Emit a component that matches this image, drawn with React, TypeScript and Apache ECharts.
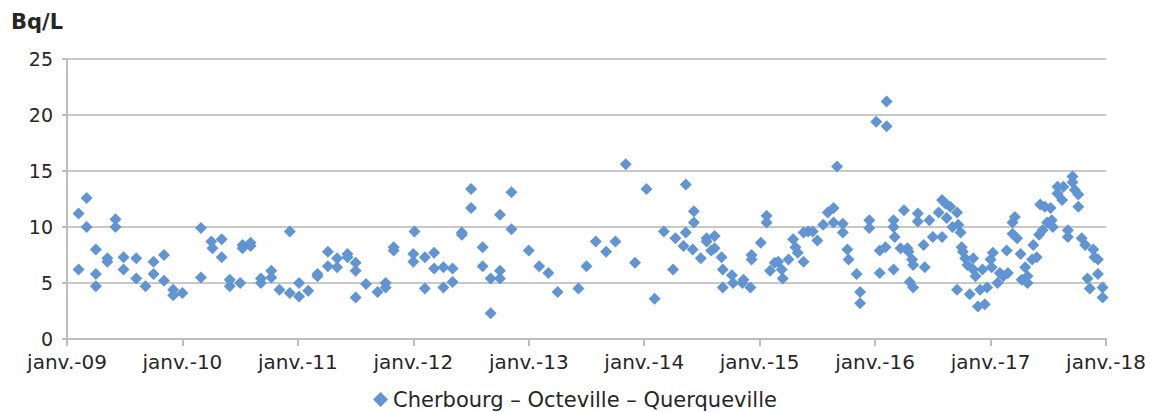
import React, { useEffect, useRef } from "react";
import * as echarts from "echarts";

const yearTicks = [2009, 2010, 2011, 2012, 2013, 2014, 2015, 2016, 2017, 2018];
const seriesName = "Cherbourg – Octeville – Querqueville";
const unitLabel = "Bq/L";

// decimal-year dates of the samples
const dates = [
  2009.10, 2009.10, 2009.17, 2009.17, 2009.25, 2009.25, 2009.25, 2009.35, 2009.35, 2009.42,
  2009.42, 2009.49, 2009.49, 2009.60, 2009.60, 2009.68, 2009.75, 2009.75, 2009.84, 2009.84,
  2009.92, 2009.92, 2010.00, 2010.16, 2010.16, 2010.25, 2010.26, 2010.34, 2010.34, 2010.41,
  2010.41, 2010.50, 2010.52, 2010.52, 2010.59, 2010.59, 2010.68, 2010.68, 2010.77, 2010.77,
  2010.84, 2010.93, 2010.93, 2011.01, 2011.01, 2011.09, 2011.17, 2011.17, 2011.26, 2011.26,
  2011.34, 2011.34, 2011.43, 2011.43, 2011.50, 2011.50, 2011.50, 2011.59, 2011.69, 2011.76,
  2011.76, 2011.83, 2011.83,
  2012.01, 2012.00, 2012.00, 2012.10, 2012.10, 2012.18, 2012.18, 2012.26, 2012.26, 2012.34,
  2012.34, 2012.42, 2012.42, 2012.50, 2012.50, 2012.60, 2012.60, 2012.67, 2012.67, 2012.75,
  2012.75, 2012.75, 2012.85, 2012.85,
  2013.00, 2013.09, 2013.17, 2013.25, 2013.43, 2013.50, 2013.58, 2013.67, 2013.75, 2013.84,
  2013.92, 2014.02, 2014.09, 2014.17, 2014.25, 2014.27, 2014.36, 2014.36, 2014.34, 2014.43,
  2014.43, 2014.42, 2014.49, 2014.54, 2014.54, 2014.58, 2014.61, 2014.61, 2014.67, 2014.68,
  2014.68, 2014.76, 2014.77, 2014.85, 2014.86, 2014.92, 2014.93, 2014.93,
  2015.01, 2015.06, 2015.06, 2015.09, 2015.13, 2015.16, 2015.19, 2015.20, 2015.25, 2015.29,
  2015.31, 2015.33, 2015.38, 2015.38, 2015.42, 2015.46, 2015.50, 2015.55, 2015.59, 2015.64,
  2015.67, 2015.64, 2015.72, 2015.72, 2015.76, 2015.77, 2015.84, 2015.87, 2015.87, 2015.95,
  2015.95,
  2016.01, 2016.04, 2016.04, 2016.09, 2016.10, 2016.10, 2016.16, 2016.16, 2016.17, 2016.16,
  2016.22, 2016.25, 2016.28, 2016.29, 2016.32, 2016.33, 2016.30, 2016.33, 2016.37, 2016.37,
  2016.42, 2016.43, 2016.47, 2016.50, 2016.55, 2016.58, 2016.58, 2016.61, 2016.62, 2016.65,
  2016.67, 2016.71, 2016.72, 2016.71, 2016.74, 2016.75, 2016.76, 2016.78, 2016.80, 2016.85,
  2016.82, 2016.85, 2016.87, 2016.89, 2016.91, 2016.93, 2016.95, 2016.97,
  2017.00, 2017.01, 2017.02, 2017.06, 2017.08, 2017.11, 2017.14, 2017.15, 2017.19, 2017.21,
  2017.19, 2017.23, 2017.26, 2017.27, 2017.30, 2017.32, 2017.32, 2017.36, 2017.37, 2017.40,
  2017.42, 2017.43, 2017.45, 2017.47, 2017.49, 2017.52, 2017.53, 2017.54, 2017.58, 2017.58,
  2017.62, 2017.63, 2017.67, 2017.67, 2017.71, 2017.71, 2017.73, 2017.76, 2017.76, 2017.79,
  2017.82, 2017.84, 2017.86, 2017.89, 2017.90, 2017.93, 2017.93, 2017.97, 2017.97,
];

// activity values (Bq/L)
const values = [
  11.2, 6.2, 12.6, 10.0, 8.0, 5.8, 4.7, 7.2, 6.9, 10.7,
  10.0, 7.3, 6.2, 7.2, 5.4, 4.7, 6.9, 5.8, 7.5, 5.2,
  4.4, 3.9, 4.1, 9.9, 5.5, 8.7, 8.1, 8.9, 7.3, 5.3,
  4.7, 5.0, 8.4, 8.1, 8.6, 8.3, 5.4, 5.0, 6.1, 5.5,
  4.4, 9.6, 4.1, 5.0, 3.8, 4.3, 5.8, 5.6, 7.8, 6.5,
  7.2, 6.4, 7.6, 7.3, 6.8, 6.1, 3.7, 4.9, 4.2, 5.0,
  4.6, 8.2, 7.9,
  9.6, 7.6, 6.9, 7.3, 4.5, 7.7, 6.3, 6.4, 4.6, 6.3,
  5.1, 9.5, 9.3, 13.4, 11.7, 8.2, 6.5, 5.4, 2.3, 11.1,
  6.1, 5.4, 13.1, 9.8,
  7.9, 6.5, 5.9, 4.2, 4.5, 6.5, 8.7, 7.8, 8.7, 15.6,
  6.8, 13.4, 3.6, 9.6, 6.2, 9.0, 13.8, 9.5, 8.3, 11.4,
  10.4, 8.0, 7.2, 9.0, 8.7, 7.9, 9.2, 8.1, 7.3, 6.2,
  4.6, 5.7, 5.0, 5.0, 5.3, 4.6, 7.5, 7.1,
  8.6, 11.0, 10.4, 6.1, 6.8, 6.9, 6.2, 5.4, 7.1, 8.9,
  8.2, 7.7, 6.9, 9.5, 9.6, 9.6, 8.8, 10.2, 11.3, 11.7,
  15.4, 10.4, 10.3, 9.5, 8.0, 7.1, 5.8, 4.2, 3.2, 10.6,
  9.9,
  19.4, 7.9, 5.9, 8.2, 21.2, 19.0, 10.6, 10.0, 9.1, 6.2,
  8.1, 11.5, 8.1, 7.8, 7.1, 6.6, 5.1, 4.6, 11.2, 10.5,
  8.4, 6.4, 10.6, 9.1, 11.3, 12.4, 9.1, 12.1, 10.8, 11.8,
  10.0, 11.3, 10.2, 4.4, 9.5, 8.2, 7.8, 7.2, 6.6, 7.2,
  4.0, 6.2, 5.6, 2.9, 4.4, 6.2, 3.1, 4.6,
  7.1, 6.4, 7.7, 5.0, 5.9, 5.6, 7.9, 5.9, 10.4, 10.9,
  9.4, 9.0, 7.6, 5.3, 6.4, 5.6, 5.0, 7.1, 8.4, 7.3,
  9.3, 12.0, 9.7, 11.8, 10.4, 11.7, 10.6, 10.0, 13.6, 13.0,
  12.4, 13.6, 9.7, 9.1, 14.5, 14.0, 13.3, 12.9, 11.8, 9.0,
  8.4, 5.4, 4.5, 8.0, 7.3, 7.1, 5.8, 4.6, 3.7,
];

const FONT = "DejaVu Sans";
const COLOR = "#6094d2";
const TEXT = "#262626";

export default function App() {
  const ref = useRef<HTMLDivElement>(null);
  useEffect(() => {
    if (!ref.current) return;
    const chart = echarts.init(ref.current, null, { renderer: "svg" });
    const n = Math.min(dates.length, values.length);
    const data: number[][] = [];
    for (let i = 0; i < n; i++) data.push([dates[i], values[i]]);
    chart.setOption({
      animation: false,
      textStyle: { fontFamily: FONT },
      grid: { left: 67, right: 44, top: 59, bottom: 73, containLabel: false },
      title: {
        text: unitLabel,
        left: 11,
        top: 11,
        padding: 0,
        textStyle: { fontFamily: FONT, fontSize: 21, fontWeight: "bold", color: TEXT },
      },
      legend: {
        top: 389,
        left: "center",
        padding: 0,
        itemWidth: 15,
        itemHeight: 15,
        icon: "diamond",
        textStyle: { fontFamily: FONT, fontSize: 21, color: TEXT },
        data: [seriesName],
      },
      xAxis: {
        type: "value",
        min: yearTicks[0],
        max: yearTicks[yearTicks.length - 1],
        interval: 1,
        axisLine: { show: true, lineStyle: { color: "#bdbdbd", width: 2 } },
        axisTick: { show: true, length: 7, lineStyle: { color: "#bdbdbd", width: 2 } },
        splitLine: { show: false },
        axisLabel: {
          fontFamily: FONT,
          fontSize: 20,
          color: TEXT,
          margin: 13,
          formatter: (v: number) => "janv.-" + String(Math.round(v)).slice(2),
        },
      },
      yAxis: {
        type: "value",
        min: 0,
        max: 25,
        interval: 5,
        axisLine: { show: true, lineStyle: { color: "#bdbdbd", width: 2 } },
        axisTick: { show: true, length: 5, lineStyle: { color: "#bdbdbd", width: 2 } },
        splitLine: { show: true, lineStyle: { color: "#c8c8c8", width: 2 } },
        axisLabel: { fontFamily: FONT, fontSize: 19, color: TEXT, margin: 14 },
      },
      series: [
        {
          name: seriesName,
          type: "scatter",
          symbol: "diamond",
          symbolSize: 12,
          itemStyle: { color: COLOR, opacity: 1 },
          data,
        },
      ],
    });
    return () => chart.dispose();
  }, []);
  return (
    <div
      ref={ref}
      style={{ position: "absolute", left: 0, top: 0, width: 1150, height: 412 }}
    />
  );
}
